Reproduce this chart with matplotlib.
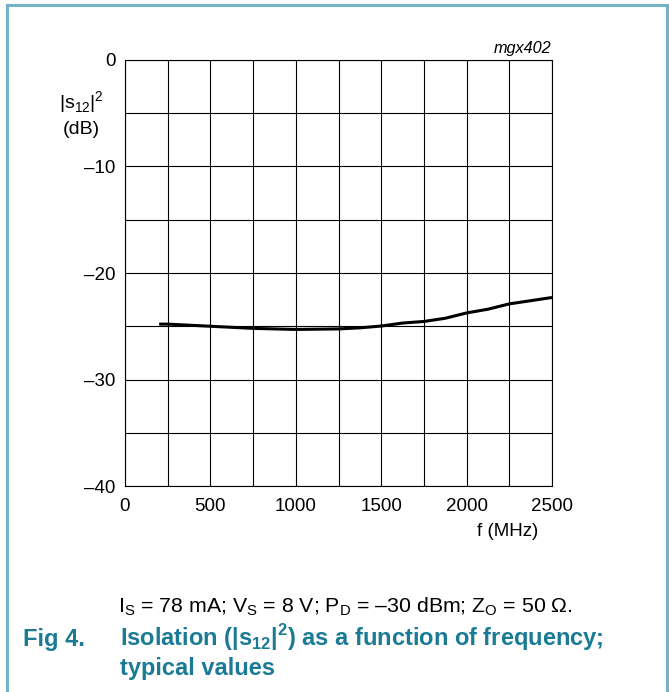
import matplotlib
matplotlib.use("Agg")
import matplotlib.pyplot as plt
from matplotlib.lines import Line2D

plt.rcParams["font.family"] = ["Liberation Sans", "DejaVu Sans"]
plt.rcParams["mathtext.fontset"] = "custom"
plt.rcParams["mathtext.rm"] = "Liberation Sans"

# isolation curve
freq_mhz = [200, 250, 500, 750, 1000, 1250, 1375, 1500, 1625, 1750,
            1875, 2000, 2125, 2250, 2375, 2500]
s12_db = [-24.8, -24.8, -25.0, -25.2, -25.3, -25.25, -25.15, -24.98, -24.7,
          -24.55, -24.25, -23.75, -23.4, -22.9, -22.6, -22.3]

x_ticks = [0, 500, 1000, 1500, 2000, 2500]
x_labels = ["0", "500", "1000", "1500", "2000", "2500"]
y_ticks = [0, -10, -20, -30, -40]
y_labels = ["0", "\u201310", "\u201320", "\u201330", "\u201340"]
x_grid = list(range(0, 2501, 250))
y_grid = list(range(-40, 1, 5))

teal = "#1b7b95"
frame = "#72b3c6"

W, H = 669, 692
fig = plt.figure(figsize=(W / 100, H / 100), dpi=100)

# light blue frame around the figure (open at the bottom)
fig.add_artist(Line2D([7 / W, 7 / W], [0, 1 - 5 / H], color=frame, lw=2.2,
                      transform=fig.transFigure))
fig.add_artist(Line2D([7 / W, 667 / W], [1 - 5 / H, 1 - 5 / H], color=frame,
                      lw=2.2, transform=fig.transFigure))
fig.add_artist(Line2D([667 / W, 667 / W], [0, 1 - 5 / H], color=frame, lw=2.2,
                      transform=fig.transFigure))

ax = fig.add_axes([125 / W, 1 - 486 / H, 427 / W, 426 / H])
ax.set_xlim(0, 2500)
ax.set_ylim(-40, 0)

for x in x_grid:
    ax.axvline(x, color="black", lw=0.8, zorder=1)
for y in y_grid:
    ax.axhline(y, color="black", lw=0.8, zorder=1)

ax.plot(freq_mhz, s12_db, color="black", lw=2.2, zorder=3,
        solid_capstyle="butt")

for s in ax.spines.values():
    s.set_linewidth(0.8)

ax.set_xticks(x_ticks)
ax.set_xticklabels(x_labels)
ax.set_yticks(y_ticks)
ax.set_yticklabels(y_labels)
ax.tick_params(length=0, labelsize=13.5)
ax.tick_params(axis="y", pad=7)
ax.tick_params(axis="x", pad=8.5)

fig.text(81 / W, 1 - 103 / H, r"|s$_\mathregular{12}$|$^\mathregular{2}$",
         ha="center", va="center", fontsize=14)
fig.text(81 / W, 1 - 129 / H, "(dB)", ha="center", va="center", fontsize=14)
fig.text(508 / W, 1 - 531 / H, "f (MHz)", ha="center", va="center",
         fontsize=13.5)
fig.text(551 / W, 1 - 49 / H, "mgx402", ha="right", va="center",
         fontsize=11.7, style="italic")

fig.text(118 / W, 1 - 612 / H,
         r"I$_\mathregular{S}$ = 78 mA; V$_\mathregular{S}$ = 8 V; "
         "P$_\\mathregular{D}$ = \u201330 dBm; Z$_\\mathregular{O}$ = 50 $\\Omega$.",
         ha="left", va="baseline", fontsize=15.3)
fig.text(23 / W, 1 - 646 / H, "Fig 4.", ha="left", va="baseline",
         fontsize=17, weight="bold", color=teal)
fig.text(120 / W, 1 - 646 / H,
         r"Isolation (|s$_\mathregular{12}$|$^\mathregular{2}$) as a function of frequency;",
         ha="left", va="baseline", fontsize=17, weight="bold", color=teal)
fig.text(120 / W, 1 - 675 / H, "typical values", ha="left", va="baseline",
         fontsize=17, weight="bold", color=teal)

fig.savefig("out.png", dpi=100)
